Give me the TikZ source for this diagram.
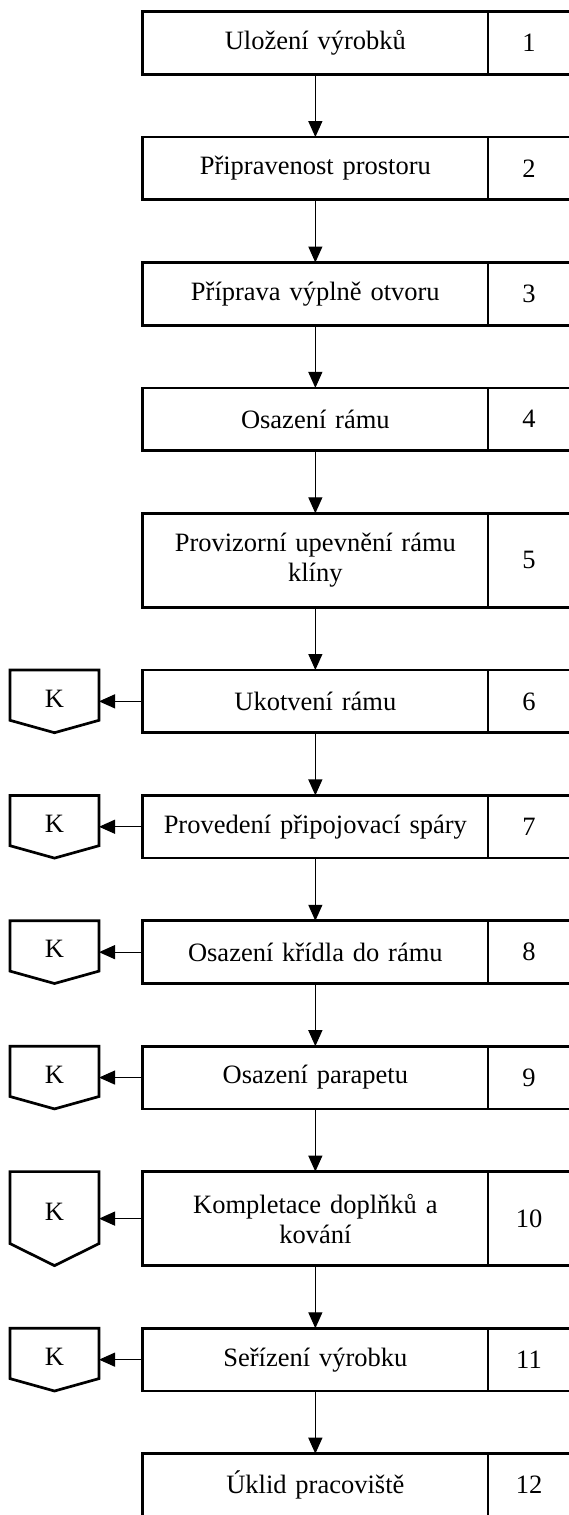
\documentclass[tikz,border=0pt]{standalone}
\usepackage{fontspec}
\setmainfont{Liberation Serif}
\usetikzlibrary{positioning, arrows.meta, calc}
\tikzset{
  stepbox/.style={
    rectangle,
    draw,
    line width=2.7pt,
    minimum width=345.3pt,
    minimum height=62.7pt,
    text width=335pt,
    align=center,
    font=\fontsize{26.5}{30}\selectfont,
    inner sep=0pt,
    outer sep=0pt
  },
  numbox/.style={
    rectangle,
    draw,
    line width=2.7pt,
    minimum width=82pt,
    minimum height=62.7pt,
    align=center,
    font=\fontsize{26.5}{30}\selectfont,
    inner sep=0pt,
    outer sep=0pt
  },
  tallbox/.style={
    minimum height=94pt
  },
  kbox/.style={
    rectangle,
    minimum width=89pt,
    minimum height=50.3pt,
    text height=24pt,
    font=\fontsize{26.5}{30}\selectfont,
    inner sep=0pt,
    outer sep=0pt,
    anchor=north
  },
  kline/.style={
    line width=2.7pt,
    line join=miter
  },
  flowarrow/.style={
    line width=1.2pt,
    -{Triangle[length=16pt, width=14pt]}
  }
}

\begin{document}
\begin{tikzpicture}[x=1pt, y=-1pt]
  \useasboundingbox (0,0) rectangle (568,1515);
  % kroky postupu
  \node[stepbox] (s1) at (315.35,43.05) {Uložení výrobků};
  \node[stepbox] (s2) at (315.35,168.45) {Připravenost prostoru};
  \node[stepbox] (s3) at (315.35,293.85) {Příprava výplně otvoru};
  \node[stepbox] (s4) at (315.35,419.25) {Osazení rámu};
  \node[stepbox, tallbox] (s5) at (315.35,560.3) {Provizorní upevnění rámu\\klíny};
  \node[stepbox] (s6) at (315.35,701.35) {Ukotvení rámu};
  \node[stepbox] (s7) at (315.35,826.75) {Provedení připojovací spáry};
  \node[stepbox] (s8) at (315.35,952.15) {Osazení křídla do rámu};
  \node[stepbox] (s9) at (315.35,1077.55) {Osazení parapetu};
  \node[stepbox, tallbox] (s10) at (315.35,1218.6) {Kompletace doplňků a\\kování};
  \node[stepbox] (s11) at (315.35,1359.65) {Seřízení výrobku};
  \node[stepbox] (s12) at (315.35,1485.05) {Úklid pracoviště};
  % cisla kroku
  \node[numbox, right=0pt of s1] (n1) {1};
  \node[numbox, right=0pt of s2] (n2) {2};
  \node[numbox, right=0pt of s3] (n3) {3};
  \node[numbox, right=0pt of s4] (n4) {4};
  \node[numbox, tallbox, right=0pt of s5] (n5) {5};
  \node[numbox, right=0pt of s6] (n6) {6};
  \node[numbox, right=0pt of s7] (n7) {7};
  \node[numbox, right=0pt of s8] (n8) {8};
  \node[numbox, right=0pt of s9] (n9) {9};
  \node[numbox, tallbox, right=0pt of s10] (n10) {10};
  \node[numbox, right=0pt of s11] (n11) {11};
  \node[numbox, right=0pt of s12] (n12) {12};
  % kontroly
  \node[kbox] (k6) at (54.5,670) {K};
  \node[kbox] (k7) at (54.5,795.4) {K};
  \node[kbox] (k8) at (54.5,920.8) {K};
  \node[kbox] (k9) at (54.5,1046.2) {K};
  \node[kbox, minimum height=72pt, text height=26pt] (k10) at (54.5,1171.6) {K};
  \node[kbox] (k11) at (54.5,1328.3) {K};
  \draw[kline] (k6.north west) -- (k6.north east) -- (k6.south east) -- (k6.south |- s6.south) -- (k6.south west) -- cycle;
  \draw[kline] (k7.north west) -- (k7.north east) -- (k7.south east) -- (k7.south |- s7.south) -- (k7.south west) -- cycle;
  \draw[kline] (k8.north west) -- (k8.north east) -- (k8.south east) -- (k8.south |- s8.south) -- (k8.south west) -- cycle;
  \draw[kline] (k9.north west) -- (k9.north east) -- (k9.south east) -- (k9.south |- s9.south) -- (k9.south west) -- cycle;
  \draw[kline] (k10.north west) -- (k10.north east) -- (k10.south east) -- (k10.south |- s10.south) -- (k10.south west) -- cycle;
  \draw[kline] (k11.north west) -- (k11.north east) -- (k11.south east) -- (k11.south |- s11.south) -- (k11.south west) -- cycle;
  % sipky
  \draw[flowarrow] (s1) -- (s2);
  \draw[flowarrow] (s2) -- (s3);
  \draw[flowarrow] (s3) -- (s4);
  \draw[flowarrow] (s4) -- (s5);
  \draw[flowarrow] (s5) -- (s6);
  \draw[flowarrow] (s6) -- (s7);
  \draw[flowarrow] (s7) -- (s8);
  \draw[flowarrow] (s8) -- (s9);
  \draw[flowarrow] (s9) -- (s10);
  \draw[flowarrow] (s10) -- (s11);
  \draw[flowarrow] (s11) -- (s12);
  \draw[flowarrow] (s6.west) -- (k6.east |- s6.west);
  \draw[flowarrow] (s7.west) -- (k7.east |- s7.west);
  \draw[flowarrow] (s8.west) -- (k8.east |- s8.west);
  \draw[flowarrow] (s9.west) -- (k9.east |- s9.west);
  \draw[flowarrow] (s10.west) -- (k10.east |- s10.west);
  \draw[flowarrow] (s11.west) -- (k11.east |- s11.west);
\end{tikzpicture}
\end{document}
